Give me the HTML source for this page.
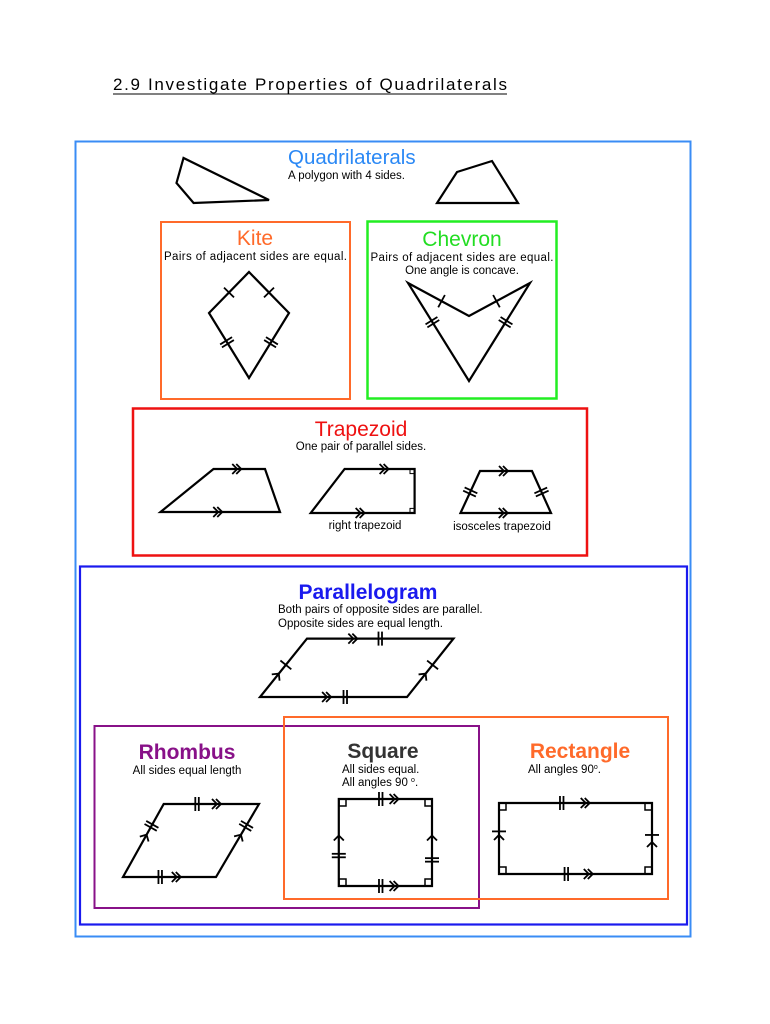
<!DOCTYPE html>
<html><head><meta charset="utf-8"><style>
html,body{margin:0;padding:0;background:#fff;width:770px;height:1024px;overflow:hidden}
svg{display:block}
text{font-family:"Liberation Sans",sans-serif}
</style></head><body>
<svg id="s" width="770" height="1024" viewBox="0 0 770 1024" xmlns="http://www.w3.org/2000/svg">
<text x="113" y="90" font-size="17" fill="#000" textLength="394" lengthAdjust="spacing">2.9  Investigate Properties of Quadrilaterals</text>
<line x1="113" y1="94" x2="507" y2="94" stroke="#000" stroke-width="1"/>
<rect x="75.5" y="141.5" width="615" height="795" fill="none" stroke="#3a8cf5" stroke-width="2"/>
<text x="288" y="164" font-size="20.5" fill="#2a88f5">Quadrilaterals</text>
<text x="288" y="179" font-size="11.5">A polygon with 4 sides.</text>
<g fill="none" stroke="#000" stroke-width="2.2" stroke-linejoin="miter">
<polygon points="183.5,158 176.5,183 193.6,203 269,200"/>
<polygon points="457,172 492,161 518,203 437,203"/>
</g>
<rect x="161" y="222" width="189" height="177" fill="none" stroke="#ff6a2a" stroke-width="2"/>
<text x="255" y="245" font-size="21" fill="#ff6a2a" text-anchor="middle">Kite</text>
<text x="255.5" y="260" font-size="11.5" text-anchor="middle" textLength="183" lengthAdjust="spacing">Pairs of adjacent sides are equal.</text>
<rect x="367.5" y="221.5" width="189" height="177" fill="none" stroke="#22ee22" stroke-width="2.5"/>
<text x="462" y="246" font-size="21" fill="#22dd22" text-anchor="middle">Chevron</text>
<text x="462" y="261" font-size="11.5" text-anchor="middle" textLength="183" lengthAdjust="spacing">Pairs of adjacent sides are equal.</text>
<text x="462" y="274" font-size="11.5" text-anchor="middle">One angle is concave.</text>
<rect x="133" y="408.5" width="454" height="147" fill="none" stroke="#ee1111" stroke-width="2.5"/>
<text x="361" y="436" font-size="21" fill="#ee1111" text-anchor="middle">Trapezoid</text>
<text x="361" y="450" font-size="11.5" text-anchor="middle">One pair of parallel sides.</text>
<text x="365" y="529" font-size="11.5" text-anchor="middle">right trapezoid</text>
<text x="502" y="530" font-size="11.5" text-anchor="middle">isosceles trapezoid</text>
<rect x="80" y="566.5" width="607" height="358" fill="none" stroke="#1a1aee" stroke-width="2.2"/>
<text x="368" y="599" font-size="21" font-weight="bold" fill="#1a1aee" text-anchor="middle">Parallelogram</text>
<text x="278" y="613" font-size="11.5">Both pairs of opposite sides are parallel.</text>
<text x="278" y="627" font-size="11.5">Opposite sides are equal length.</text>
<rect x="94.5" y="726" width="384.5" height="182" fill="none" stroke="#881188" stroke-width="2"/>
<rect x="284" y="717" width="384" height="182" fill="none" stroke="#ff6a2a" stroke-width="2"/>
<text x="187" y="759" font-size="21" font-weight="bold" fill="#881188" text-anchor="middle">Rhombus</text>
<text x="187" y="774" font-size="11.5" text-anchor="middle">All sides equal length</text>
<text x="383" y="758" font-size="21" font-weight="bold" fill="#333" text-anchor="middle">Square</text>
<text x="342" y="773" font-size="11.5">All sides equal.</text>
<text x="342" y="786" font-size="11.5">All angles 90 <tspan font-size="7" dy="-4">o</tspan><tspan dy="4">.</tspan></text>
<text x="580" y="758" font-size="21" font-weight="bold" fill="#ff6a2a" text-anchor="middle">Rectangle</text>
<text x="528" y="773" font-size="11.5">All angles 90<tspan font-size="7" dy="-4">o</tspan><tspan dy="4">.</tspan></text>
<g id="g" fill="none" stroke="#000" stroke-width="2.2" stroke-linejoin="miter"></g>
</svg>
<script>
var g=document.getElementById('g'),NS="http://www.w3.org/2000/svg";
function el(t,a){var e=document.createElementNS(NS,t);for(var k in a)e.setAttribute(k,a[k]);g.appendChild(e);return e;}
function poly(p){el('polygon',{points:p.map(function(q){return q.join(',')}).join(' ')});}
function tick(a,b,t,n){var dx=b[0]-a[0],dy=b[1]-a[1],L=Math.hypot(dx,dy),ux=dx/L,uy=dy/L,px=-uy,py=ux;
 var cx=a[0]+dx*t,cy=a[1]+dy*t;for(var i=0;i<n;i++){var o=(i-(n-1)/2)*3.5;var x=cx+ux*o,y=cy+uy*o;
 el('line',{x1:x+px*7,y1:y+py*7,x2:x-px*7,y2:y-py*7,'stroke-width':1.8});}}
function arr(a,b,t,n){var dx=b[0]-a[0],dy=b[1]-a[1],L=Math.hypot(dx,dy),ux=dx/L,uy=dy/L,px=-uy,py=ux;
 var cx=a[0]+dx*t,cy=a[1]+dy*t;for(var i=0;i<n;i++){var o=(i-(n-1)/2)*4;var x=cx+ux*o,y=cy+uy*o;
 el('polyline',{points:(x-ux*5+px*5)+','+(y-uy*5+py*5)+' '+x+','+y+' '+(x-ux*5-px*5)+','+(y-uy*5-py*5),'stroke-width':1.8});}}
function sq(x,y){el('rect',{x:x,y:y,width:7,height:7,'stroke-width':1.5});}
var K=[[249,272],[289,313],[249,378],[209,313]];poly(K);
tick(K[3],K[0],.5,1);tick(K[0],K[1],.5,1);tick(K[1],K[2],.45,2);tick(K[3],K[2],.45,2);
var C=[[408,283],[469,316],[530,283],[469,381]];poly(C);
tick(C[0],C[1],.55,1);tick(C[1],C[2],.45,1);tick(C[0],C[3],.4,2);tick(C[2],C[3],.4,2);
var T1=[[160.5,512],[213.5,469],[265,469],[280,512]];poly(T1);arr(T1[1],T1[2],.5,2);arr(T1[0],T1[3],.5,2);
var T2=[[310.7,513],[344.6,469],[414.6,469],[414.6,513]];poly(T2);arr(T2[1],T2[2],.6,2);arr(T2[0],T2[3],.5,2);
el('rect',{x:410,y:469,width:4.6,height:4.6,'stroke-width':1});el('rect',{x:410,y:508.4,width:4.6,height:4.6,'stroke-width':1});
var T3=[[460.5,513],[480,471],[532,471],[551,513]];poly(T3);arr(T3[1],T3[2],.5,2);arr(T3[0],T3[3],.5,2);
tick(T3[0],T3[1],.5,2);tick(T3[3],T3[2],.5,2);
var P=[[307,638.6],[453.5,638.6],[407,697],[260,697]];poly(P);
arr(P[0],P[1],.33,2);tick(P[0],P[1],.5,2);arr(P[3],P[2],.47,2);tick(P[3],P[2],.58,2);
arr(P[3],P[0],.4,1);tick(P[3],P[0],.55,1);arr(P[2],P[1],.4,1);tick(P[2],P[1],.55,1);
var R=[[163.7,804],[259,804],[216,877],[123,877]];poly(R);
tick(R[0],R[1],.35,2);arr(R[0],R[1],.58,2);tick(R[3],R[2],.4,2);arr(R[3],R[2],.6,2);
arr(R[3],R[0],.58,1);tick(R[3],R[0],.7,2);arr(R[2],R[1],.58,1);tick(R[2],R[1],.7,2);
var S=[[338.8,799],[432,799],[432,886],[338.8,886]];poly(S);
tick(S[0],S[1],.45,2);arr(S[0],S[1],.62,2);tick(S[3],S[2],.45,2);arr(S[3],S[2],.62,2);
arr(S[3],S[0],.58,1);tick(S[3],S[0],.35,2);arr(S[2],S[1],.58,1);tick(S[2],S[1],.3,2);
sq(339,799);sq(425,799);sq(339,879);sq(425,879);
var Q=[[499,803],[652,803],[652,874],[499,874]];poly(Q);
tick(Q[0],Q[1],.41,2);arr(Q[0],Q[1],.58,2);tick(Q[3],Q[2],.44,2);arr(Q[3],Q[2],.6,2);
arr(Q[3],Q[0],.55,1);tick(Q[3],Q[0],.6,1);arr(Q[2],Q[1],.45,1);tick(Q[2],Q[1],.55,1);
sq(499,803);sq(645,803);sq(499,867);sq(645,867);
</script>
</body></html>
